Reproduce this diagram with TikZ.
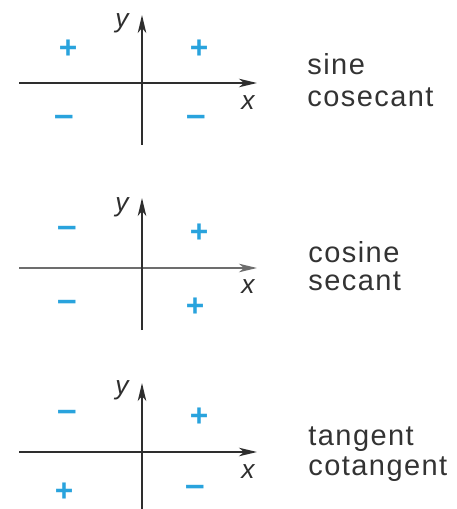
\documentclass[tikz,border=0pt]{standalone}
\usepackage{fontspec}
\setmainfont{Liberation Sans}
\usetikzlibrary{arrows.meta}
\definecolor{signblue}{HTML}{29A3DD}
\definecolor{axisdark}{HTML}{2E2E2E}

\begin{document}
\begin{tikzpicture}[x=0.02cm, y=-0.02cm,
    axis/.style={draw=axisdark, line width=1.1pt, -{Stealth[length=0.36cm, width=0.17cm, inset=0.1cm]}},
    plussign/.style={text=signblue, inner sep=0pt, yshift=-1pt, font=\fontsize{18}{18}\selectfont\bfseries},
    minussign/.style={text=signblue, inner sep=0pt, yshift=-2.2pt, font=\fontsize{20}{20}\selectfont\bfseries},
    lbl/.style={inner sep=0pt, text=axisdark, font=\fontsize{15}{15}\selectfont\itshape},
    fname/.style={anchor=base west, inner sep=0pt, text=black!80,
      font=\fontsize{16.5}{16.5}\addfontfeatures{LetterSpace=5}}]
  \useasboundingbox (0,0) rectangle (456,509);

  % sine, cosecant
  \coordinate (l1) at (19,83);  \coordinate (r1) at (257,83);
  \coordinate (b1) at (142,145); \coordinate (t1) at (142,15);
  \draw[axis] (l1) -- (r1);
  \draw[axis] (b1) -- (t1);
  \node[lbl] (y1) at (122,23) {y};
  \node[lbl] (x1) at (248,103) {x};
  \node[plussign] (q1a) at (68,47) {+};  \node[plussign] (q1b) at (199,47) {+};
  \node[minussign] (q1c) at (64,117) {–}; \node[minussign] (q1d) at (196,117) {–};
  \node[fname] (sine) at (307,75) {sine};
  \node[fname] (csc) at (307,107) {cosecant};

  % cosine, secant
  \coordinate (l2) at (19,268);  \coordinate (r2) at (257,268);
  \coordinate (b2) at (142,330); \coordinate (t2) at (142,198);
  \draw[axis, draw=axisdark!70] (l2) -- (r2);
  \draw[axis] (b2) -- (t2);
  \node[lbl] (y2) at (122,207) {y};
  \node[lbl] (x2) at (248,287) {x};
  \node[minussign] (q2a) at (67,228) {–}; \node[plussign] (q2b) at (199,231) {+};
  \node[minussign] (q2c) at (67,302) {–}; \node[plussign] (q2d) at (195,305) {+};
  \node[fname] (cosine) at (308,262) {cosine};
  \node[fname] (sec) at (308,290) {secant};

  % tangent, cotangent
  \coordinate (l3) at (19,452);  \coordinate (r3) at (257,452);
  \coordinate (b3) at (142,509); \coordinate (t3) at (142,383);
  \draw[axis] (l3) -- (r3);
  \draw[axis] (b3) -- (t3);
  \node[lbl] (y3) at (122,390) {y};
  \node[lbl] (x3) at (248,472) {x};
  \node[minussign] (q3a) at (67,412) {–}; \node[plussign] (q3b) at (199,415) {+};
  \node[plussign] (q3c) at (64,490) {+}; \node[minussign] (q3d) at (195,487) {–};
  \node[fname] (tan) at (308,445) {tangent};
  \node[fname] (cot) at (308,475) {cotangent};
\end{tikzpicture}
\end{document}
